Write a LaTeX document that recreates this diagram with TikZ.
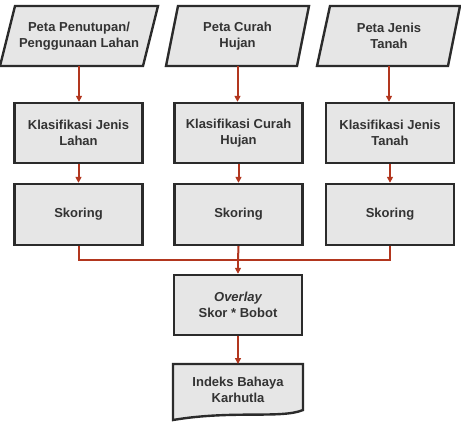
\documentclass[tikz,border=0pt]{standalone}
\usepackage{fontspec}
\setmainfont{Liberation Sans}
\usetikzlibrary{arrows.meta}
\definecolor{boxfill}{HTML}{E6E6E6}
\definecolor{boxline}{HTML}{2B2B2B}
\definecolor{txt}{HTML}{333333}
\definecolor{arrc}{HTML}{B2361E}
\begin{document}
\begin{tikzpicture}[x=1pt,y=-1pt,
  shapeframe/.style={draw=boxline,fill=boxfill,line width=2.4pt,line join=miter},
  lbl/.style={text=txt,font=\bfseries\fontsize{13}{16}\selectfont,align=center,inner sep=0pt},
  pnode/.style={lbl,minimum width=120pt,minimum height=60pt},
  rbox/.style={lbl,shapeframe,minimum width=128pt,minimum height=60pt},
  conn/.style={draw=arrc,line width=2pt},
  arr/.style={conn,-{Triangle[length=6pt,width=6pt]}}]
\useasboundingbox (0,0) rectangle (461,421);
% parallelograms
\draw[shapeframe] (15,6) -- (158,6) -- (143,66) -- (0,66) -- cycle;
\draw[shapeframe] (178,6) -- (309,6) -- (297,66) -- (166,66) -- cycle;
\draw[shapeframe] (330,6) -- (460,6) -- (448,66) -- (317,66) -- cycle;
\node[pnode] (p1) at (79,36) {Peta Penutupan/\\Penggunaan Lahan};
\node[pnode] (p2) at (237.5,36) {Peta Curah\\Hujan};
\node[pnode] (p3) at (389,36) {Peta Jenis\\Tanah};
% classification boxes
\node[rbox] (k1) at (78.5,133) {Klasifikasi Jenis\\Lahan};
\node[rbox] (k2) at (238.5,133) {\raisebox{1pt}{\begin{tabular}{@{}c@{}}Klasifikasi Curah\\Hujan\end{tabular}}};
\node[rbox] (k3) at (390,133) {Klasifikasi Jenis\\Tanah};
% scoring boxes
\node[rbox,minimum height=61pt] (s1) at (78.5,214.5) {Skoring};
\node[rbox,minimum height=61pt] (s2) at (238.5,214.5) {Skoring};
\node[rbox,minimum height=61pt] (s3) at (390,214.5) {Skoring};
% overlay
\node[rbox] (ov) at (238,305) {\itshape Overlay\\Skor * Bobot};
% document
\draw[shapeframe] (173,364) -- (303,364) -- (303,410)
   .. controls (282,419) and (232,410) .. (173,420) -- cycle;
\node[lbl,minimum width=120pt,minimum height=40pt] (ix) at (238,389.5) {Indeks Bahaya\\Karhutla};
\coordinate (j) at (238,260);
% connectors
\draw[arr] (p1.south) -- (p1.south |- k1.north);
\draw[arr] (p2.south) -- (p2.south |- k2.north);
\draw[arr] (p3.south) -- (p3.south |- k3.north);
\draw[arr] (k1.south) -- (s1.north);
\draw[arr] (k2.south) -- (s2.north);
\draw[arr] (k3.south) -- (s3.north);
\draw[conn] (s1.south) |- (j);
\draw[conn] (s3.south) |- (j);
\draw[conn] (s2.south) -- (j);
\draw[arr] (j) -- (ov.north);
\draw[arr] (ov.south) -- (ix.north |- 0,364);
\end{tikzpicture}
\end{document}
